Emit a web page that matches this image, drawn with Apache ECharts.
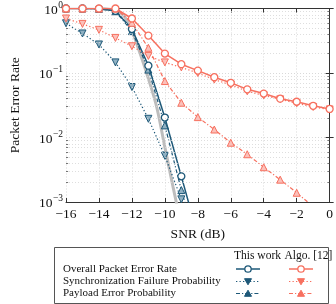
<!DOCTYPE html>
<html>
<head>
<meta charset="utf-8">
<script src="https://cdn.jsdelivr.net/npm/echarts@6/dist/echarts.min.js"></script>
<style>
html,body{margin:0;padding:0;background:#fff;}
#chart{width:336px;height:304px;}
</style>
</head>
<body>
<div id="chart"></div>
<script>
// ---- data ----
const snr = [-16,-15,-14,-13,-12,-11,-10,-9,-8,-7,-6,-5,-4,-3,-2,-1,0];
// This work (first 9 points: -16 .. -8)
const thisOverall = [1,1,0.99,0.92,0.48,0.13,0.0204,0.0025,0.0003];
const thisSync    = [0.59,0.41,0.277,0.146,0.0606,0.0195,0.0052,0.0011,0.0002];
const thisPayload = [1,1,0.99,0.906,0.446,0.113,0.0154,0.00153,0.0002];
// Algo. [12]
const algoOverall = [1,1,1,1,0.70,0.38,0.20,0.137,0.109,0.086,0.0705,0.0558,0.048,0.040,0.0358,0.031,0.0277];
const algoSync    = [0.70,0.577,0.467,0.35,0.26,0.184,0.146,0.122,0.10,0.079,0.0656,0.052,0.045,0.039,0.034,0.0297,0.0272];
const algoPayload = [1,1,1,1,0.6,0.246,0.075,0.0346,0.0207,0.0133,0.0083,0.0055,0.00346,0.00222,0.00139,0.00085,0.0005];
// grey reference curve
const refSnr = [-14,-13,-12.5,-12,-11.5,-11,-10.5,-10,-9.5,-9];
const refVal = [1,0.93,0.78,0.45,0.2,0.082,0.03,0.0071,0.0017,0.00043];
// axis ticks
const xMin = -16, xMax = 0, xStep = 2;
const yMin = 0.001, yMax = 1;
const legendRows = ['Overall Packet Error Rate','Synchronization Failure Probability','Payload Error Probability'];
const legendCols = ['This work','Algo. [12]'];

// ---- styles ----
const BLUE = '#1d5878', BLUE_T = '#8fb0c2';
const RED = '#f7705f', RED_T = '#fbc0ba';
const GREY = '#bdbdbd';
const FONT = 'Liberation Serif';

function pairs(xs, ys){ return ys.map((v,i)=>[xs[i], v]); }

// minor grid values (2..9 per decade)
const minorVals = [];
for (let d=-3; d<0; d++) for (let m=2; m<=9; m++) minorVals.push(+(m*Math.pow(10,d)).toPrecision(3));
const minorGrid = minorVals.map(v=>[{coord:[xMin,v]},{coord:[xMax,v]}]);
const minorTicks = [];
minorVals.forEach(v=>{
  minorTicks.push([{coord:[xMin,v]},{coord:[xMin+0.13,v]}]);
  minorTicks.push([{coord:[xMax-0.13,v]},{coord:[xMax,v]}]);
});

function mkSeries(name, data, color, tint, kind, z){
  const s = {
    name, type:'line', data, z,
    symbolSize: 7, clip:true,
    lineStyle:{color, width: kind==='overall'?1.5:1.2},
    itemStyle:{color: kind==='overall' ? '#fff' : tint, borderColor: color, borderWidth: kind==='overall'?1.3:1},
    emphasis:{disabled:true}, animation:false
  };
  if (kind==='overall'){ s.symbol='circle'; s.lineStyle.type='solid'; }
  if (kind==='sync'){ s.symbol='triangle'; s.symbolRotate=180; s.lineStyle.type=[1.3,2.2]; }
  if (kind==='payload'){ s.symbol='triangle'; s.lineStyle.type=[4,2,1.2,2]; }
  return s;
}

function yLabel(v){
  const e = Math.round(Math.log10(v));
  const es = e===0 ? '0' : '−'+(-e);
  return '{b|10}{s|'+es+'}';
}

const chart = echarts.init(document.getElementById('chart'), null, {renderer:'canvas'});

const axisLine = {show:true, lineStyle:{color:'#333', width:1}};
const gridDot = {show:true, lineStyle:{color:'#cfcfcf', width:0.8, type:[1,2]}};

// legend graphics
const gx0 = 54, gy0 = 247, gw = 274, gh = 56;
const rowY = [269, 281.5, 293.5];
const colX = [248, 301];
const kinds = ['overall','sync','payload'];
const graphics = [{type:'rect', shape:{x:gx0+0.5,y:gy0+0.5,width:gw,height:gh}, style:{fill:'#fff', stroke:'#555', lineWidth:1}, z:100}];
graphics.push({type:'text', x:281, y:256, style:{text:legendCols[0], font:'11.5px '+FONT, fill:'#111', align:'right', verticalAlign:'middle'}, z:101});
graphics.push({type:'text', x:284.5, y:256, style:{text:legendCols[1], font:'11.5px '+FONT, fill:'#111', align:'left', verticalAlign:'middle'}, z:101});
legendRows.forEach((t,i)=>{
  graphics.push({type:'text', x:63, y:rowY[i], style:{text:t, font:'11px '+FONT, fill:'#111', align:'left', verticalAlign:'middle'}, z:101});
  [[BLUE,BLUE_T],[RED,RED_T]].forEach((c,j)=>{
    const cx = colX[j], cy = rowY[i];
    const dash = kinds[i]==='overall'? null : (kinds[i]==='sync'? [1.3,2.2] : [4,2,1.2,2]);
    graphics.push({type:'line', shape:{x1:cx-12,y1:cy,x2:cx+12,y2:cy}, style:{stroke:c[0], lineWidth: kinds[i]==='overall'?1.5:1.2, lineDash:dash}, z:101});
    if (kinds[i]==='overall'){
      graphics.push({type:'circle', shape:{cx, cy, r:3.2}, style:{fill:'#fff', stroke:c[0], lineWidth:1.3}, z:102});
    } else if (kinds[i]==='sync'){
      graphics.push({type:'polygon', shape:{points:[[cx-3.5,cy-2.8],[cx+3.5,cy-2.8],[cx,cy+3.3]]}, style:{fill:c[0], stroke:c[0], lineWidth:1}, z:102});
    } else {
      graphics.push({type:'polygon', shape:{points:[[cx-3.5,cy+2.8],[cx+3.5,cy+2.8],[cx,cy-3.3]]}, style:{fill:c[0], stroke:c[0], lineWidth:1}, z:102});
    }
  });
});

chart.setOption({
  animation:false,
  backgroundColor:'#fff',
  grid:{left:52, right:5, top:5, bottom:102, containLabel:false},
  xAxis:[{
    type:'value', min:xMin, max:xMax, interval:xStep, position:'bottom',
    axisLine, axisTick:{show:true, inside:true, length:4, lineStyle:{color:'#333'}},
    axisLabel:{fontFamily:FONT, fontSize:13.5, color:'#111', margin:5,
      formatter:v=> v<0 ? '−'+(-v) : String(v)},
    splitLine:gridDot,
    name:'SNR (dB)', nameLocation:'middle', nameGap:25,
    nameTextStyle:{fontFamily:FONT, fontSize:13.5, color:'#111'}
  },{
    type:'value', min:xMin, max:xMax, interval:xStep, position:'top',
    axisLine, axisTick:{show:true, inside:true, length:4, lineStyle:{color:'#333'}},
    axisLabel:{show:false}, splitLine:{show:false}
  }],
  yAxis:[{
    type:'log', logBase:10, min:yMin, max:yMax, position:'left',
    axisLine, axisTick:{show:true, inside:true, length:4, lineStyle:{color:'#333'}},
    axisLabel:{margin:3, formatter:yLabel, rich:{
      b:{fontFamily:FONT, fontSize:13.5, color:'#111', lineHeight:17, verticalAlign:'bottom'},
      s:{fontFamily:FONT, fontSize:9.5, color:'#111', lineHeight:17, verticalAlign:'top', padding:[0,0,0,0.5]}
    }},
    splitLine:gridDot,
    name:'Packet Error Rate', nameLocation:'middle', nameGap:44, nameRotate:90,
    nameTextStyle:{fontFamily:FONT, fontSize:13.5, color:'#111'}
  },{
    type:'log', logBase:10, min:yMin, max:yMax, position:'right',
    axisLine, axisTick:{show:true, inside:true, length:4, lineStyle:{color:'#333'}},
    axisLabel:{show:false}, splitLine:{show:false}
  }],
  series:[
    {type:'line', name:'grid', data:[], silent:true, z:1,
     markLine:{silent:true, symbol:'none', label:{show:false}, animation:false,
       lineStyle:{color:'#d6d6d6', width:0.8, type:[1,2]}, data:minorGrid}},
    {type:'line', name:'ticks', data:[], silent:true, z:1,
     markLine:{silent:true, symbol:'none', label:{show:false}, animation:false,
       lineStyle:{color:'#555', width:0.8, type:'solid'}, data:minorTicks}},
    {type:'line', name:'ref', data:pairs(refSnr, refVal), smooth:0.35, showSymbol:false, z:2,
     lineStyle:{color:GREY, width:3}, itemStyle:{color:GREY}, animation:false},
    mkSeries('This work sync', pairs(snr, thisSync), BLUE, BLUE_T, 'sync', 3),
    mkSeries('This work payload', pairs(snr, thisPayload), BLUE, BLUE_T, 'payload', 3),
    mkSeries('This work overall', pairs(snr, thisOverall), BLUE, BLUE_T, 'overall', 4),
    mkSeries('Algo sync', pairs(snr, algoSync), RED, RED_T, 'sync', 5),
    mkSeries('Algo payload', pairs(snr, algoPayload), RED, RED_T, 'payload', 5),
    mkSeries('Algo overall', pairs(snr, algoOverall), RED, RED_T, 'overall', 6)
  ],
  graphic:graphics
});
</script>
</body>
</html>
